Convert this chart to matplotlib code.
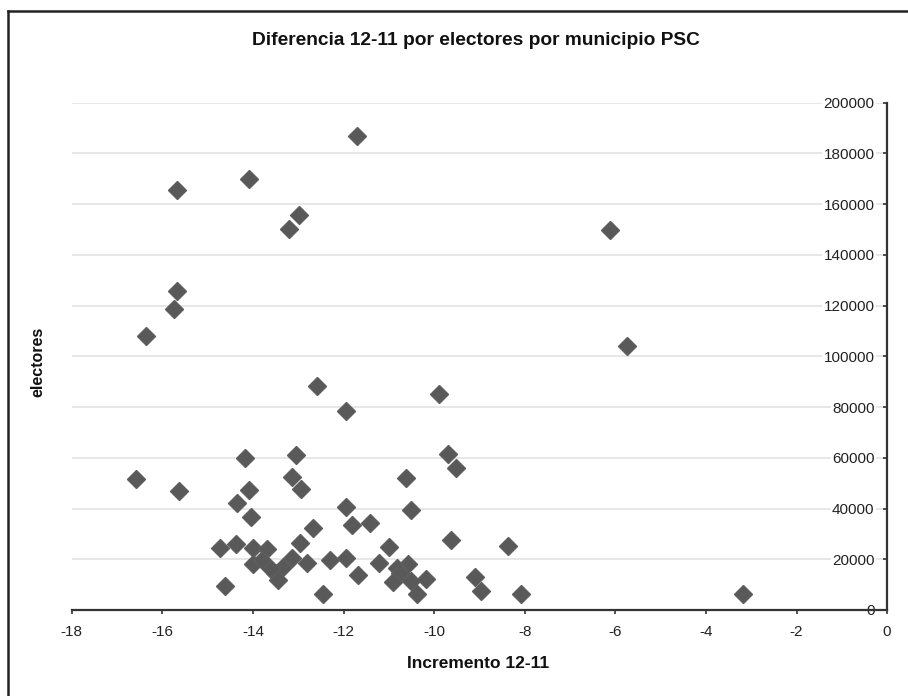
import matplotlib.pyplot as plt
from matplotlib.lines import Line2D

plt.rcParams["font.family"] = ["Liberation Sans", "DejaVu Sans"]

# Incremento 12-11 y electores por municipio
incremento = [
    -11.71, -15.67, -14.08, -12.98, -13.21, -15.67, -15.74, -16.36, -6.12, -5.75,
    -12.59, -9.89, -11.95, -14.17, -13.05, -9.70, -9.52, -16.59, -15.63, -13.14,
    -12.94, -10.62, -14.09, -14.36, -14.04, -11.94, -10.52, -11.81, -11.41, -12.67,
    -9.63, -8.38,
    -14.73, -14.37, -13.99, -13.70, -12.97, -10.99, -13.99, -13.81, -13.51, -13.44,
    -13.33, -13.14, -12.80, -12.30, -11.94, -11.67, -11.21, -12.45, -14.62, -13.60,
    -10.57, -10.83, -10.75, -10.90, -10.50, -10.38, -10.19,
    -9.10, -8.96, -8.09, -3.19,
]
electores = [
    187000, 165600, 170000, 155800, 150300, 125700, 118600, 108100, 150000, 103900,
    88200, 85000, 78500, 60100, 61300, 61400, 56000, 51500, 47000, 52500,
    47600, 52000, 47200, 42300, 36500, 40700, 39400, 33500, 34100, 32200,
    27600, 25200,
    24500, 26000, 24300, 23900, 26600, 24700, 18000, 19700, 14400, 11800,
    17000, 20300, 18400, 19900, 20300, 13800, 18600, 6300, 9300, 16200,
    18300, 16400, 14400, 11100, 11500, 6300, 12100,
    12900, 7600, 6300, 6300,
]

x_ticks = list(range(-18, 1, 2))
y_ticks = list(range(0, 200001, 20000))

fig = plt.figure(figsize=(9.08, 6.96), dpi=100)
ax = fig.add_axes([0.079, 0.1236, 0.898, 0.7288])

ax.plot(incremento, electores, linestyle="none", marker="D", markersize=9,
        color="#595959", markeredgecolor="#5e5e5e", zorder=3)

ax.set_xlim(-18, 0)
ax.set_ylim(0, 200000)
ax.set_xticks(x_ticks)
ax.set_yticks(y_ticks)
ax.set_xticklabels([str(t) for t in x_ticks])
ax.set_yticklabels([str(t) for t in y_ticks])

# eje vertical en x = 0, con etiquetas a su izquierda
ax.spines["left"].set_position(("data", 0))
ax.spines["right"].set_visible(False)
ax.spines["top"].set_visible(False)
for s in ("left", "bottom"):
    ax.spines[s].set_color("#333333")
    ax.spines[s].set_linewidth(1.6)

ax.tick_params(axis="both", direction="out", length=3, width=1.2, color="#333333",
               labelsize=11, labelcolor="#222222")
ax.tick_params(axis="y", pad=6)
ax.tick_params(axis="x", pad=8)
for lab in ax.get_yticklabels():
    lab.set_bbox(dict(facecolor="white", edgecolor="none", pad=1))

ax.grid(axis="y", color="#e3e3e3", linewidth=1.2, zorder=0)
ax.set_axisbelow(True)

fig.text(0.524, 0.9425, "Diferencia 12-11 por electores por municipio PSC",
         ha="center", va="center", fontsize=13.8, fontweight="bold", color="#111111")
fig.text(0.526, 0.047, "Incremento 12-11", ha="center", va="center",
         fontsize=12.5, fontweight="bold", color="#111111")
fig.text(0.042, 0.48, "electores", ha="center", va="center", rotation=90,
         fontsize=11.5, fontweight="bold", color="#111111")

# marco exterior del gráfico
fig.add_artist(Line2D([8 / 908, 1], [1 - 11 / 696, 1 - 11 / 696],
                      transform=fig.transFigure, color="#222222", linewidth=1.8))
fig.add_artist(Line2D([8 / 908, 8 / 908], [0, 1 - 11 / 696],
                      transform=fig.transFigure, color="#222222", linewidth=1.8))

fig.savefig("out.png", dpi=100)
